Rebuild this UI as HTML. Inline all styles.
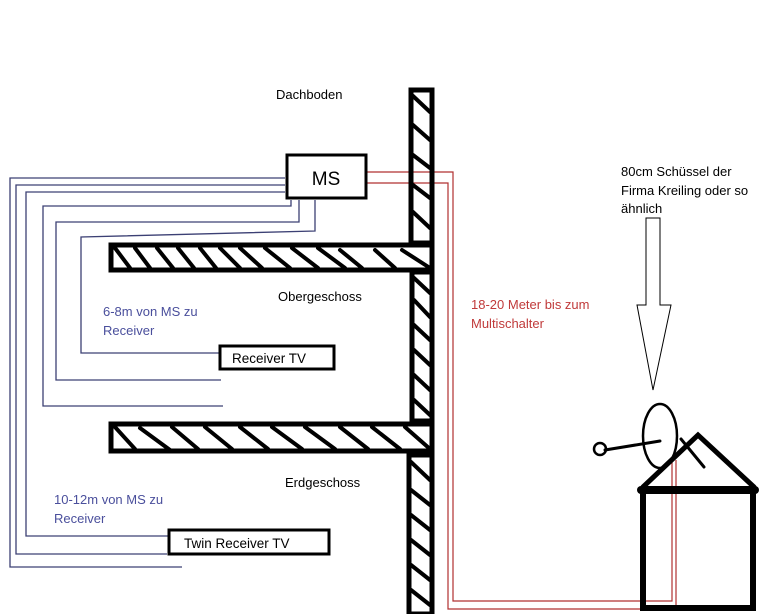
<!DOCTYPE html>
<html><head><meta charset="utf-8"><style>
html,body{margin:0;padding:0;background:#fff;}
svg{display:block;}
text{font-family:"Liberation Sans",sans-serif;font-size:13px;}
</style></head><body>
<svg width="768" height="614" viewBox="0 0 768 614" xmlns="http://www.w3.org/2000/svg">
<rect width="768" height="614" fill="#fff"/>
<!-- blue cables -->
<g fill="none" stroke="#3c4074" stroke-width="1.3">
<polyline points="285,178 10,178 10,567 182,567"/>
<polyline points="285,185 16,185 16,554 167,554"/>
<polyline points="285,192 26,192 26,536 175,536"/>
<polyline points="291,200 291,206 43,206 43,406 223,406"/>
<polyline points="299,200 299,222 56,222 56,380 221,380"/>
<polyline points="315,200 315,231 81,237 81,353 220,353"/>
</g>
<!-- red cables -->
<g fill="none" stroke="#b03030" stroke-width="1.2">
<polyline points="362,172 453,172 453,601 672,601 672,460"/>
<polyline points="362,183 448,183 448,609 676,609 676,460"/>
</g>
<!-- walls & slabs -->
<g fill="none" stroke="#000" stroke-width="5">
<rect x="411" y="90" width="21" height="153"/>
<rect x="111" y="245" width="321" height="25"/>
<rect x="412" y="272" width="20" height="149"/>
<rect x="111" y="424" width="321" height="27"/>
<rect x="409" y="455" width="23" height="159"/>
</g>
<g stroke="#000" stroke-width="4" stroke-linecap="round">
<!-- upper wall hatch -->
<line x1="413" y1="96" x2="430" y2="112"/><line x1="413" y1="125" x2="430" y2="140"/>
<line x1="413" y1="155" x2="430" y2="168"/><line x1="413" y1="185" x2="430" y2="198"/>
<line x1="413" y1="212" x2="430" y2="228"/>
<!-- top slab hatch -->
<line x1="115" y1="248" x2="130" y2="268"/><line x1="135" y1="248" x2="150" y2="268"/>
<line x1="157" y1="248" x2="173" y2="268"/><line x1="178" y1="248" x2="194" y2="268"/>
<line x1="200" y1="248" x2="216" y2="268"/><line x1="220" y1="248" x2="240" y2="268"/>
<line x1="240" y1="248" x2="262" y2="268"/><line x1="265" y1="248" x2="290" y2="268"/>
<line x1="292" y1="248" x2="318" y2="268"/><line x1="318" y1="248" x2="345" y2="268"/>
<line x1="340" y1="250" x2="362" y2="268"/><line x1="375" y1="250" x2="395" y2="268"/>
<line x1="402" y1="250" x2="430" y2="268"/>
<!-- middle wall hatch -->
<line x1="414" y1="278" x2="430" y2="293"/><line x1="414" y1="300" x2="430" y2="317"/>
<line x1="414" y1="325" x2="430" y2="340"/><line x1="414" y1="350" x2="430" y2="365"/>
<line x1="414" y1="375" x2="430" y2="390"/><line x1="414" y1="400" x2="430" y2="415"/>
<!-- bottom slab hatch -->
<line x1="115" y1="427" x2="135" y2="449"/><line x1="140" y1="428" x2="170" y2="450"/>
<line x1="172" y1="427" x2="198" y2="449"/><line x1="205" y1="427" x2="232" y2="449"/>
<line x1="240" y1="427" x2="268" y2="449"/><line x1="272" y1="427" x2="302" y2="449"/>
<line x1="305" y1="427" x2="335" y2="449"/><line x1="340" y1="427" x2="368" y2="449"/>
<line x1="372" y1="427" x2="400" y2="449"/><line x1="405" y1="427" x2="430" y2="449"/>
<!-- lower wall hatch -->
<line x1="411" y1="462" x2="430" y2="480"/><line x1="411" y1="490" x2="430" y2="505"/>
<line x1="411" y1="515" x2="430" y2="530"/><line x1="411" y1="540" x2="430" y2="555"/>
<line x1="411" y1="565" x2="430" y2="580"/><line x1="411" y1="590" x2="430" y2="605"/>
</g>
<!-- boxes -->
<rect x="287" y="155" width="79" height="43" fill="#fff" stroke="#000" stroke-width="3"/>
<text x="326" y="185" text-anchor="middle" style="font-size:19px">MS</text>
<rect x="220" y="346" width="114" height="23" fill="#fff" stroke="#000" stroke-width="3"/>
<text x="232" y="363" style="font-size:13.5px">Receiver TV</text>
<rect x="169" y="530" width="160" height="24" fill="#fff" stroke="#000" stroke-width="3"/>
<text x="184" y="548" style="font-size:13.5px">Twin Receiver TV</text>
<!-- labels -->
<text x="276" y="99">Dachboden</text>
<text x="278" y="301">Obergeschoss</text>
<text x="285" y="487">Erdgeschoss</text>
<g fill="#4a4f9c"><text x="103" y="316">6-8m von MS zu</text><text x="103" y="335">Receiver</text>
<text x="54" y="504">10-12m von MS zu</text><text x="54" y="523">Receiver</text></g>
<g fill="#c03a3a"><text x="471" y="309">18-20 Meter bis zum</text><text x="471" y="328">Multischalter</text></g>
<text x="621" y="176">80cm Schüssel der</text>
<text x="621" y="195">Firma Kreiling oder so</text>
<text x="621" y="213">ähnlich</text>
<!-- arrow -->
<polygon points="646,218 660,218 660,305 671,305 653,390 637,305 646,305" fill="#fff" stroke="#000" stroke-width="1"/>
<!-- house -->
<g fill="none" stroke="#000" stroke-linecap="round">
<rect x="643" y="490" width="110" height="118" stroke-width="6"/>
<line x1="641" y1="490" x2="755" y2="490" stroke-width="8"/>
<polyline points="643,487 698,435 754,487" stroke-width="5"/>
<ellipse cx="660" cy="436" rx="17" ry="32" stroke-width="2.5"/>
<line x1="605" y1="450" x2="660" y2="441" stroke-width="3"/>
<circle cx="600" cy="449" r="6" stroke-width="2.5"/>
<line x1="681" y1="439" x2="704" y2="467" stroke-width="3"/>
</g>
</svg>
</body></html>
